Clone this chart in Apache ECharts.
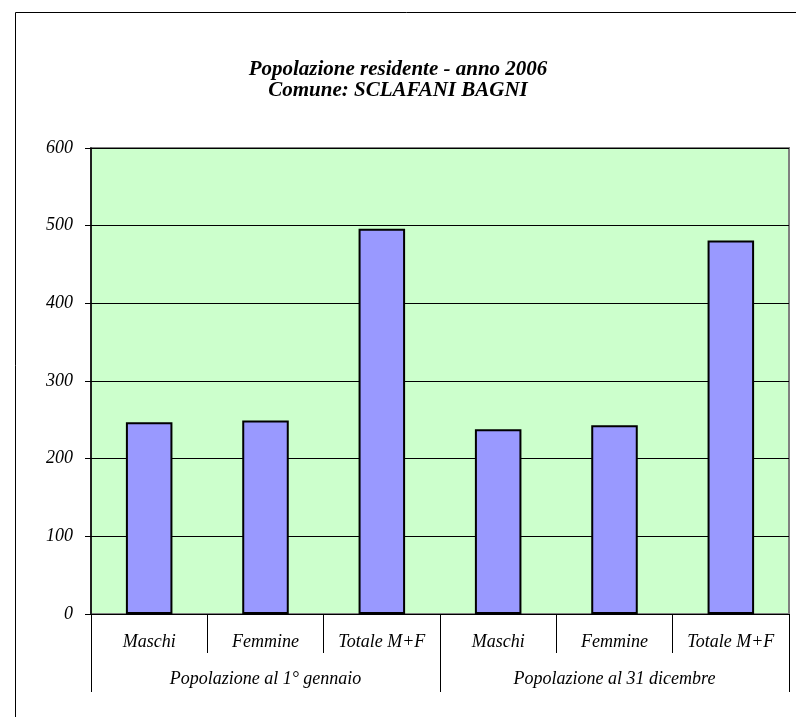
<!DOCTYPE html>
<html>
<head>
<meta charset="utf-8">
<title>Popolazione residente - SCLAFANI BAGNI</title>
<script src="https://cdn.jsdelivr.net/npm/echarts@6/dist/echarts.min.js"></script>
<style>
    html, body { margin: 0; padding: 0; background: #fff; }
    #chart1 { width: 796px; height: 717px; }
</style>
</head>
<body>
<div id="chart1"></div>
<script>
// categories
var voci = ["Maschi", "Femmine", "Totale M+F", "Maschi", "Femmine", "Totale M+F"];
var periodi = ["Popolazione al 1° gennaio", "Popolazione al 31 dicembre"];
// values (1 gennaio, then 31 dicembre)
var valori = [247, 249, 496, 238, 243, 481];
var yTicks = [0, 100, 200, 300, 400, 500, 600];

var font = '"Liberation Serif", "Times New Roman", serif';

var index = {
    init: function () {
        var mychart = echarts.init(document.getElementById("chart1"));
        this.loadchart(mychart);
    },
    loadchart: function (mychart) {
        var option = {
            animation: false,
            textStyle: { fontFamily: font },
            title: {
                text: "Popolazione residente - anno 2006\nComune: SCLAFANI BAGNI",
                left: "center",
                top: 54,
                textStyle: {
                    fontFamily: font,
                    fontStyle: "italic",
                    fontWeight: "bold",
                    fontSize: 21,
                    lineHeight: 21,
                    color: "#000"
                }
            },
            graphic: [{
                type: "rect",
                shape: { x: 15.5, y: 12.5, width: 820, height: 740 },
                style: { fill: null, stroke: "#000", lineWidth: 1 },
                silent: true
            }],
            grid: {
                left: 91,
                right: 7,
                top: 148,
                bottom: 103,
                show: true,
                backgroundColor: "#CCFFCC",
                borderColor: "#808080",
                borderWidth: 2
            },
            xAxis: [{
                type: "category",
                data: voci,
                position: "bottom",
                axisLine: { lineStyle: { color: "#000", width: 1 } },
                axisTick: { show: true, interval: 0, length: 39, lineStyle: { color: "#000" } },
                axisLabel: {
                    interval: 0,
                    margin: 19,
                    fontFamily: font,
                    fontStyle: "italic",
                    fontSize: 18,
                    color: "#000"
                }
            }, {
                type: "category",
                data: periodi,
                position: "bottom",
                axisLine: { show: false },
                axisTick: { show: true, interval: 0, length: 78, lineStyle: { color: "#000" } },
                axisLabel: {
                    interval: 0,
                    margin: 56,
                    fontFamily: font,
                    fontStyle: "italic",
                    fontSize: 18,
                    color: "#000"
                }
            }],
            yAxis: {
                type: "value",
                min: yTicks[0],
                max: yTicks[yTicks.length - 1],
                interval: yTicks[1] - yTicks[0],
                axisLine: { show: true, lineStyle: { color: "#000", width: 1.5 } },
                axisTick: { show: true, length: 6, lineStyle: { color: "#000" } },
                splitLine: { lineStyle: { color: "#000", width: 1 } },
                axisLabel: {
                    margin: 18,
                    fontFamily: font,
                    fontStyle: "italic",
                    fontSize: 18,
                    color: "#000"
                }
            },
            series: [{
                type: "bar",
                xAxisIndex: 0,
                data: valori,
                barWidth: "40%",
                itemStyle: {
                    color: "#9999FF",
                    borderColor: "#000",
                    borderWidth: 2
                }
            }]
        };
        mychart.setOption(option);
    }
};

index.init();
</script>
</body>
</html>
